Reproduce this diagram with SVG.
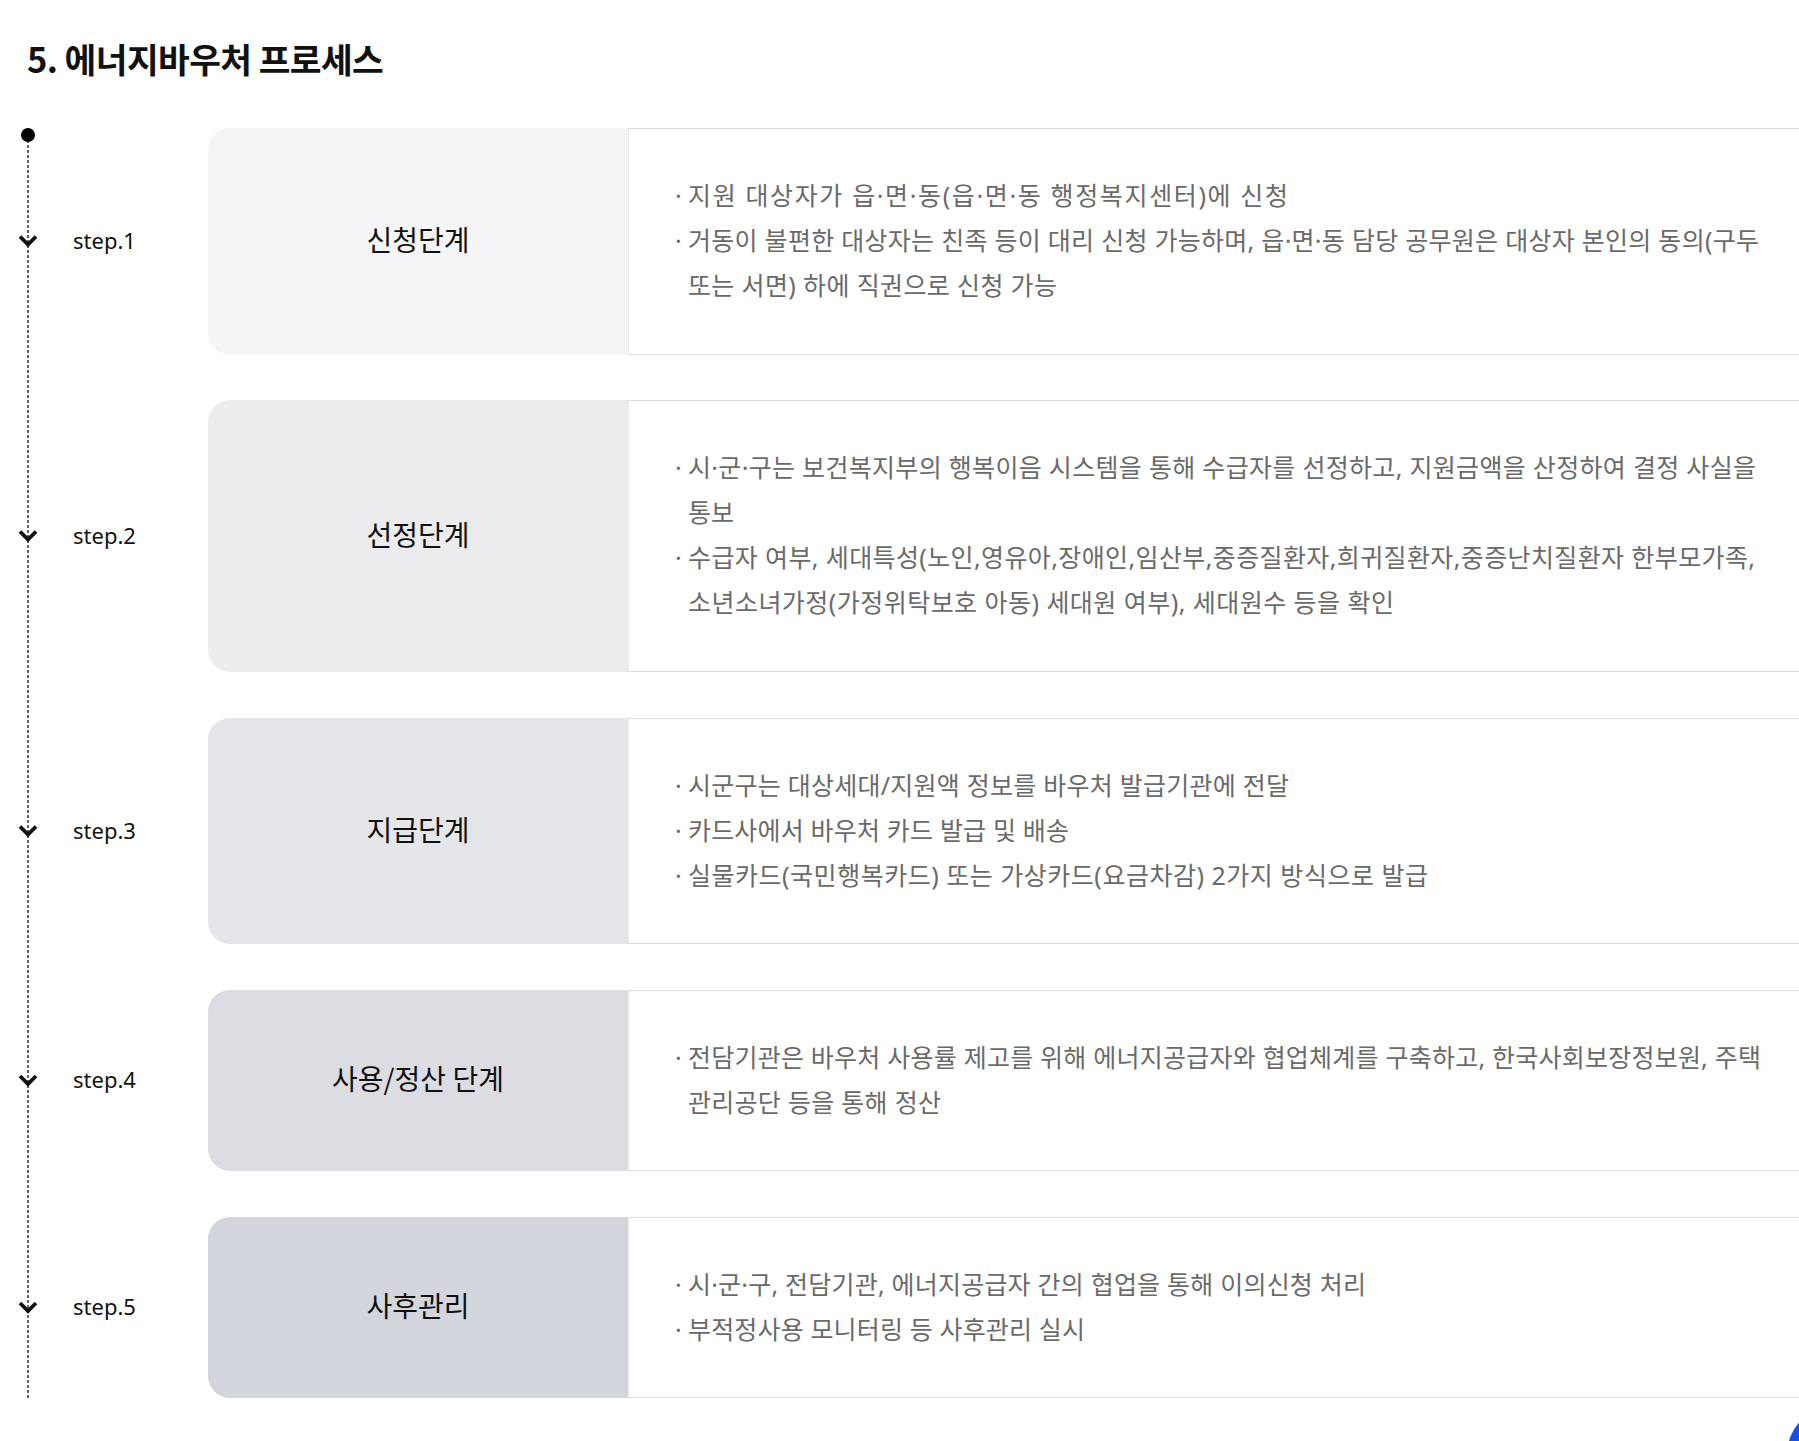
<svg xmlns="http://www.w3.org/2000/svg" width="1799" height="1441" viewBox="0 0 1799 1441">
<defs>
<style>
.title{font-family:"Noto Sans CJK KR","Noto Sans",sans-serif;font-size:34.5px;font-weight:700;fill:#111;letter-spacing:-0.6px}
.step{font-family:"Noto Sans","Noto Sans CJK KR",sans-serif;font-size:22px;fill:#111}
.name{font-family:"Noto Sans CJK KR",sans-serif;font-size:28px;font-weight:400;fill:#111;text-anchor:middle}
.body{font-family:"Noto Sans","Noto Sans CJK KR",sans-serif;font-size:25px;fill:#6a6a6a}
.content{fill:#fff;stroke:#dedede;stroke-width:1.2}
.chev{fill:none;stroke:#111;stroke-width:3.8;stroke-linejoin:miter;stroke-linecap:butt}
</style>
</defs>
<rect width="1799" height="1441" fill="#fff"/>
<text class="title" x="27" y="73">5. 에너지바우처 프로세스</text>

<g id="connectors">
<line x1="28" y1="135" x2="28" y2="1398" stroke="#111" stroke-width="1.3" stroke-dasharray="3 2"/>
<circle cx="28" cy="135" r="7" fill="#000"/>
<polyline class="chev" points="20,236.5 28,244.5 36,236.5"/>
<polyline class="chev" points="20,531.5 28,539.5 36,531.5"/>
<polyline class="chev" points="20,826.5 28,834.5 36,826.5"/>
<polyline class="chev" points="20,1076 28,1084 36,1076"/>
<polyline class="chev" points="20,1303 28,1311 36,1303"/>
</g>

<g id="step1">
<text class="step" x="73" y="249">step.1</text>
<rect class="content" x="628" y="128.5" width="1200" height="226"/>
<path d="M628,128 H230 A22,22 0 0 0 208,150 V333 A22,22 0 0 0 230,355 H628 Z" fill="#f5f5f7"/>
<text class="name" x="418" y="251">신청단계</text>
<text class="body" y="205"><tspan x="675">·</tspan><tspan x="688" textLength="600" lengthAdjust="spacing">지원 대상자가 읍·면·동(읍·면·동 행정복지센터)에 신청</tspan></text>
<text class="body" y="250"><tspan x="675">·</tspan><tspan x="688" textLength="1071" lengthAdjust="spacing">거동이 불편한 대상자는 친족 등이 대리 신청 가능하며, 읍·면·동 담당 공무원은 대상자 본인의 동의(구두</tspan></text>
<text class="body" y="295"><tspan x="688" textLength="369" lengthAdjust="spacing">또는 서면) 하에 직권으로 신청 가능</tspan></text>
</g>

<g id="step2">
<text class="step" x="73" y="544">step.2</text>
<rect class="content" x="628" y="400.5" width="1200" height="271"/>
<path d="M628,400 H230 A22,22 0 0 0 208,422 V650 A22,22 0 0 0 230,672 H628 Z" fill="#ececee"/>
<text class="name" x="418" y="546">선정단계</text>
<text class="body" y="477"><tspan x="675">·</tspan><tspan x="688" textLength="1068" lengthAdjust="spacing">시·군·구는 보건복지부의 행복이음 시스템을 통해 수급자를 선정하고, 지원금액을 산정하여 결정 사실을</tspan></text>
<text class="body" y="522"><tspan x="688">통보</tspan></text>
<text class="body" y="567"><tspan x="675">·</tspan><tspan x="688" textLength="1067" lengthAdjust="spacing">수급자 여부, 세대특성(노인,영유아,장애인,임산부,중증질환자,희귀질환자,중증난치질환자 한부모가족,</tspan></text>
<text class="body" y="612"><tspan x="688" textLength="706" lengthAdjust="spacing">소년소녀가정(가정위탁보호 아동) 세대원 여부), 세대원수 등을 확인</tspan></text>
</g>

<g id="step3">
<text class="step" x="73" y="839">step.3</text>
<rect class="content" x="628" y="718.5" width="1200" height="225"/>
<path d="M628,718 H230 A22,22 0 0 0 208,740 V922 A22,22 0 0 0 230,944 H628 Z" fill="#e5e6e9"/>
<text class="name" x="418" y="841">지급단계</text>
<text class="body" y="795"><tspan x="675">·</tspan><tspan x="688" textLength="601" lengthAdjust="spacing">시군구는 대상세대/지원액 정보를 바우처 발급기관에 전달</tspan></text>
<text class="body" y="840"><tspan x="675">·</tspan><tspan x="688" textLength="381" lengthAdjust="spacing">카드사에서 바우처 카드 발급 및 배송</tspan></text>
<text class="body" y="885"><tspan x="675">·</tspan><tspan x="688" textLength="740" lengthAdjust="spacing">실물카드(국민행복카드) 또는 가상카드(요금차감) 2가지 방식으로 발급</tspan></text>
</g>

<g id="step4">
<text class="step" x="73" y="1088">step.4</text>
<rect class="content" x="628" y="990.5" width="1200" height="180"/>
<path d="M628,990 H230 A22,22 0 0 0 208,1012 V1149 A22,22 0 0 0 230,1171 H628 Z" fill="#dcdde2"/>
<text class="name" x="418" y="1090">사용/정산 단계</text>
<text class="body" y="1067"><tspan x="675">·</tspan><tspan x="688" textLength="1073" lengthAdjust="spacing">전담기관은 바우처 사용률 제고를 위해 에너지공급자와 협업체계를 구축하고, 한국사회보장정보원, 주택</tspan></text>
<text class="body" y="1112"><tspan x="688" textLength="253" lengthAdjust="spacing">관리공단 등을 통해 정산</tspan></text>
</g>

<g id="step5">
<text class="step" x="73" y="1315">step.5</text>
<rect class="content" x="628" y="1217.5" width="1200" height="180"/>
<path d="M628,1217 H230 A22,22 0 0 0 208,1239 V1376 A22,22 0 0 0 230,1398 H628 Z" fill="#d3d6dd"/>
<text class="name" x="418" y="1317">사후관리</text>
<text class="body" y="1294"><tspan x="675">·</tspan><tspan x="688" textLength="678" lengthAdjust="spacing">시·군·구, 전담기관, 에너지공급자 간의 협업을 통해 이의신청 처리</tspan></text>
<text class="body" y="1339"><tspan x="675">·</tspan><tspan x="688" textLength="397" lengthAdjust="spacing">부적정사용 모니터링 등 사후관리 실시</tspan></text>
</g>

<circle cx="1837" cy="1455" r="50" fill="#1a50e6"/>
</svg>
